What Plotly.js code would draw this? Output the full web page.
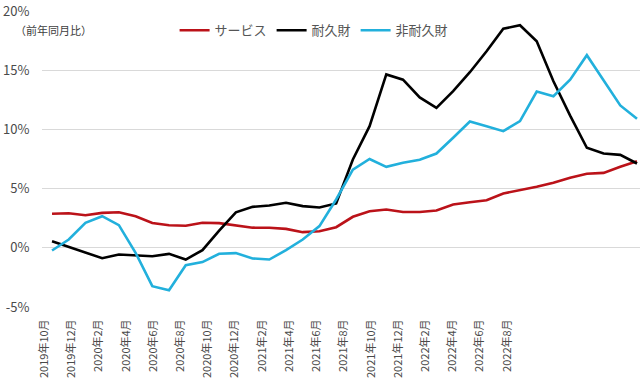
<!DOCTYPE html>
<html>
<head>
<meta charset="utf-8">
<script src="https://cdn.plot.ly/plotly-3.0.1.min.js"></script>
<style>html,body{margin:0;padding:0;background:#fff;}#chart{width:640px;height:379px;}</style>
</head>
<body>
<div id="chart"></div>
<script>
// Months: 2019-10 .. 2022-09 (index 0..35)
const months = ["2019-10","2019-11","2019-12","2020-01","2020-02","2020-03","2020-04","2020-05","2020-06","2020-07","2020-08","2020-09",
  "2020-10","2020-11","2020-12","2021-01","2021-02","2021-03","2021-04","2021-05","2021-06","2021-07","2021-08","2021-09",
  "2021-10","2021-11","2021-12","2022-01","2022-02","2022-03","2022-04","2022-05","2022-06","2022-07","2022-08","2022-09"];

const services = [2.87,2.92,2.75,2.95,3.0,2.67,2.1,1.91,1.86,2.12,2.08,1.9,
  1.7,1.69,1.6,1.32,1.4,1.74,2.62,3.09,3.23,3.02,3.02,3.15,
  3.66,3.85,4.02,4.59,4.84,5.15,5.49,5.91,6.25,6.33,6.84,7.31];

const durables = [0.56,0.08,-0.42,-0.88,-0.57,-0.62,-0.71,-0.51,-0.99,-0.2,1.45,3.0,
  3.46,3.57,3.8,3.52,3.4,3.74,7.46,10.27,14.64,14.2,12.7,11.82,
  13.23,14.83,16.6,18.5,18.8,17.45,14.07,11.17,8.45,7.96,7.85,7.12];

const nondurables = [-0.23,0.7,2.11,2.67,1.91,-0.42,-3.24,-3.58,-1.47,-1.21,-0.5,-0.45,
  -0.9,-0.99,-0.2,0.7,1.83,4.08,6.6,7.5,6.84,7.18,7.43,7.96,
  9.29,10.67,10.27,9.85,10.7,13.2,12.8,14.2,16.27,14.2,12.02,10.9];

const seriesNames = ["サービス","耐久財","非耐久財"];
const seriesColors = ["#bb1219","#000000","#22b0dc"];

const xTickText = ["2019年10月","2019年12月","2020年2月","2020年4月","2020年6月","2020年8月","2020年10月","2020年12月",
  "2021年2月","2021年4月","2021年6月","2021年8月","2021年10月","2021年12月","2022年2月","2022年4月","2022年6月","2022年8月"];

const yTickVals = [-5,0,5,10,15,20];
const yTickText = ["-5%","0%","5%","10%","15%","20%"];

const idx = months.map((m,i)=>i);
// tick labels in the source are laid out on a tighter pitch than the data points
const tickPitch = 1.629, tickOffset = -0.462;
const xTickVals = xTickText.map((t,i)=>tickOffset + tickPitch*i);

const font = '"Noto Sans CJK JP", "Noto Sans", sans-serif';
const data = [services, durables, nondurables].map((vals,k)=>({
  type:'scatter', mode:'lines', x: idx, y: vals, name: seriesNames[k],
  line:{color: seriesColors[k], width:2.6}
}));

const layout = {
  width:640, height:379,
  margin:{l:42, r:0, t:11, b:72},
  paper_bgcolor:'#fff', plot_bgcolor:'#fff',
  font:{family:font, color:'#595959'},
  showlegend:true,
  legend:{orientation:'h', x:0.455, xanchor:'center', y:0.935, yanchor:'middle',
    font:{size:13, color:'#555555', family:font}, bgcolor:'rgba(0,0,0,0)', itemwidth:30, tracegroupgap:0},
  xaxis:{range:[-0.6,35.18], tickvals:xTickVals, ticktext:xTickText, tickangle:-90,
    tickfont:{size:11, color:'#4a4a4a', family:font}, showgrid:false, zeroline:false, showline:false,
    ticks:'outside', ticklen:7, tickcolor:'rgba(0,0,0,0)', fixedrange:true},
  yaxis:{range:[-5,20], tickvals:yTickVals, ticktext:yTickText, showgrid:true, gridcolor:'#d9d9d9', gridwidth:1,
    zeroline:false, showline:false, tickfont:{size:13, color:'#4a4a4a', family:font},
    ticks:'outside', ticklen:9, tickcolor:'rgba(0,0,0,0)', fixedrange:true},
  annotations:[{text:'（前年同月比）', xref:'paper', yref:'paper', x:-0.048, y:0.935, xanchor:'left', yanchor:'middle',
    showarrow:false, font:{size:11, color:'#404040', family:font}}]
};

Plotly.newPlot('chart', data, layout, {displayModeBar:false, staticPlot:true});
</script>
</body>
</html>
